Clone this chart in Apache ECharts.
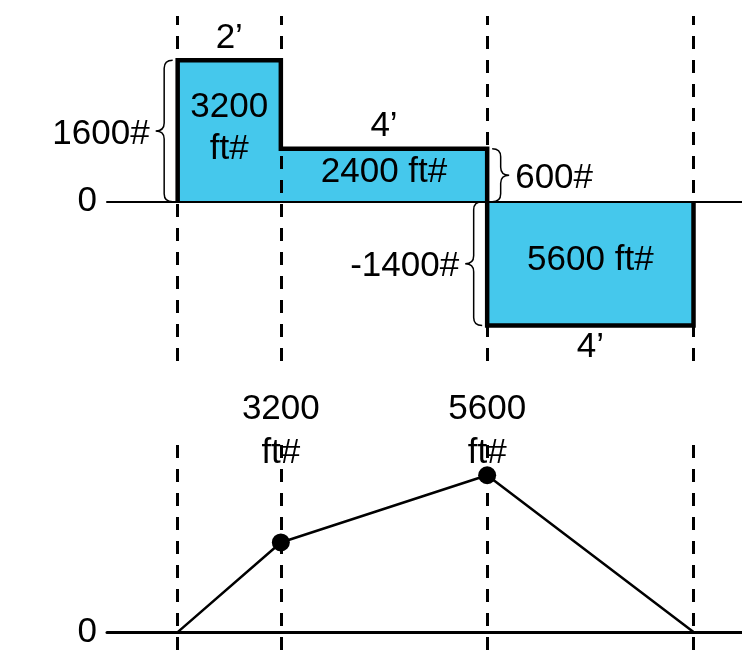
<!DOCTYPE html>
<html>

<head>
    <meta charset="UTF-8">
    <title>Shear and moment</title>
    <script src="https://cdn.jsdelivr.net/npm/echarts@6/dist/echarts.min.js"></script>
    <style>
        html, body { margin: 0; padding: 0; background: #fff; }
    </style>
</head>

<body>
    <div id="beamBox" style="width: 742px;height:659px;"></div>

    <script>
        // beam data
        var spans = [2, 4, 4];
        var spanLabels = ['2’', '4’', '4’'];
        var shearValues = [1600, 600, -1400];
        var shearLabels = ['1600#', '600#', '-1400#'];
        var areaLabels = ['3200\nft#', '2400 ft#', '5600 ft#'];
        var momentValues = [0, 3200, 5600, 0];
        var momentLabels = ['', '3200\nft#', '5600\nft#', ''];

        var FONT = "35px 'Liberation Sans', Arial, sans-serif";
        var FILL = '#45c8ec';

        // stations along the beam
        var stations = [0];
        spans.forEach(function (s) {
            stations.push(stations[stations.length - 1] + s);
        });

        // shear outline
        var shearPath = [[0, 0]];
        shearValues.forEach(function (v, i) {
            shearPath.push([stations[i], v]);
            shearPath.push([stations[i + 1], v]);
        });
        shearPath.push([stations[stations.length - 1], 0]);

        var momentData = momentValues.map(function (m, i) {
            var end = (i === 0 || i === momentValues.length - 1);
            return { value: [stations[i], m], symbolSize: end ? 0 : 18 };
        });

        // which side of the segment the brace goes on
        var braceSide = ['left', 'right', 'left'];

        function bracePath(nx, yA, yB, dir) {
            var w = 17;
            var m = nx + dir * w / 2, t = nx + dir * w;
            var ym = (yA + yB) / 2;
            var r = Math.min(8, (yB - yA) / 4);
            return 'M' + nx + ' ' + yA +
                ' Q' + m + ' ' + yA + ' ' + m + ' ' + (yA + r) +
                ' L' + m + ' ' + (ym - r) +
                ' Q' + m + ' ' + ym + ' ' + t + ' ' + ym +
                ' Q' + m + ' ' + ym + ' ' + m + ' ' + (ym + r) +
                ' L' + m + ' ' + (yB - r) +
                ' Q' + m + ' ' + yB + ' ' + nx + ' ' + yB;
        }

        function shearNotes(params, api) {
            var i = params.dataIndex;
            var x0 = stations[i], x1 = stations[i + 1], v = shearValues[i];
            var pTop = api.coord([(x0 + x1) / 2, v]);
            var pMid = api.coord([(x0 + x1) / 2, v / 2]);
            var kids = [];

            kids.push({
                type: 'text',
                style: {
                    text: spanLabels[i], x: pTop[0], y: pTop[1] + (v > 0 ? -22 : 22),
                    align: 'center', verticalAlign: 'middle', font: FONT, fill: '#000'
                }
            });
            kids.push({
                type: 'text',
                style: {
                    text: areaLabels[i], x: pMid[0], y: pMid[1] - 3, lineHeight: 42,
                    align: 'center', verticalAlign: 'middle', font: FONT, fill: '#000'
                }
            });

            var left = braceSide[i] === 'left';
            var bx = left ? x0 : x1;
            var dir = left ? -1 : 1;
            var a = api.coord([bx, 0]), b = api.coord([bx, v]);
            var yA = Math.min(a[1], b[1]), yB = Math.max(a[1], b[1]);
            var nx = a[0] + dir * 5;
            kids.push({
                type: 'path',
                shape: { pathData: bracePath(nx, yA, yB, dir) },
                style: { stroke: '#000', fill: 'none', lineWidth: 1.5 }
            });
            kids.push({
                type: 'text',
                style: {
                    text: shearLabels[i], x: nx + dir * 23, y: (yA + yB) / 2 + 3,
                    align: left ? 'right' : 'left', verticalAlign: 'middle', font: FONT, fill: '#000'
                }
            });
            return { type: 'group', children: kids };
        }

        function momentNotes(params, api) {
            var i = params.dataIndex;
            if (!momentLabels[i]) return;
            var p = api.coord([stations[i], 6680]);
            return {
                type: 'text',
                style: {
                    text: momentLabels[i], x: p[0], y: p[1] - 14, lineHeight: 44,
                    align: 'center', verticalAlign: 'middle', font: FONT, fill: '#000'
                }
            };
        }

        function dashLines() {
            return {
                silent: true,
                symbol: ['none', 'none'],
                label: { show: false },
                lineStyle: { type: [13, 11], width: 3, color: '#000' },
                data: stations.map(function (x) { return { xAxis: x }; })
            };
        }

        function hiddenX(idx, width) {
            return {
                type: 'value', gridIndex: idx, min: -1.37, max: 10.94, z: 5,
                axisLine: { show: true, onZero: true, lineStyle: { color: '#000', width: width } },
                axisTick: { show: false }, axisLabel: { show: false }, splitLine: { show: false }
            };
        }

        function zeroY(idx, min, max, interval) {
            return {
                type: 'value', gridIndex: idx, min: min, max: max, interval: interval,
                axisLine: { show: false }, axisTick: { show: false }, splitLine: { show: false },
                axisLabel: {
                    margin: 10, color: '#000', fontSize: 35,
                    fontFamily: "'Liberation Sans', Arial, sans-serif",
                    formatter: function (val) { return val === 0 ? '0' : ''; }
                }
            };
        }

        var myChart = echarts.init(document.getElementById('beamBox'));

        var option = {
            animation: false,
            textStyle: { fontFamily: "'Liberation Sans', Arial, sans-serif" },
            grid: [
                { left: 107, right: 0, top: 16, height: 345 },
                { left: 107, right: 0, top: 445, height: 205 }
            ],
            xAxis: [hiddenX(0, 2), hiddenX(1, 3)],
            yAxis: [zeroY(0, -1800, 2100, 300), zeroY(1, -640, 6680, 320)],
            series: [
                {
                    // shear diagram
                    type: 'line',
                    xAxisIndex: 0, yAxisIndex: 0,
                    data: shearPath,
                    symbol: 'none',
                    lineStyle: { color: '#000', width: 4.5, join: 'miter' },
                    areaStyle: { color: FILL, opacity: 1 },
                    markLine: dashLines(),
                    z: 2
                },
                {
                    type: 'custom',
                    xAxisIndex: 0, yAxisIndex: 0,
                    data: shearValues.map(function (v, i) { return [stations[i], v]; }),
                    renderItem: shearNotes,
                    silent: true,
                    clip: false,
                    z: 6
                },
                {
                    // moment diagram
                    type: 'line',
                    xAxisIndex: 1, yAxisIndex: 1,
                    data: momentData,
                    symbol: 'circle',
                    showAllSymbol: true,
                    itemStyle: { color: '#000' },
                    lineStyle: { color: '#000', width: 2.5 },
                    markLine: dashLines()
                },
                {
                    type: 'custom',
                    xAxisIndex: 1, yAxisIndex: 1,
                    data: momentValues.map(function (m, i) { return [stations[i], m]; }),
                    renderItem: momentNotes,
                    silent: true,
                    clip: false,
                    z: 6
                }
            ]
        };

        myChart.setOption(option);
    </script>

</body>

</html>
